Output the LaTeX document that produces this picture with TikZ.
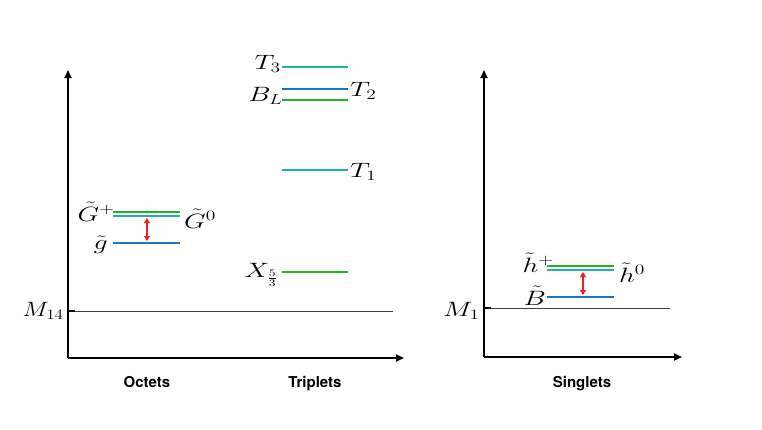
\documentclass[tikz,border=0pt]{standalone}
\usepackage{fontspec}
\newfontfamily\labfont{TeX Gyre Heros}
\usetikzlibrary{arrows.meta}
\definecolor{lvgreen}{RGB}{34,180,34}
\definecolor{lvteal}{RGB}{32,178,170}
\definecolor{lvblue}{RGB}{26,117,188}
\definecolor{lvred}{RGB}{240,32,32}
\newcommand{\wml}[1]{\scalebox{1.35}[1]{#1}}
\begin{document}
\begin{tikzpicture}[x=1pt,y=-1pt,
  axis/.style={line width=1.8pt,-{Triangle[length=8pt,width=7pt]}},
  mline/.style={line width=0.6pt,black!75},
  tick/.style={line width=1.8pt},
  lev/.style={line width=2.4pt},
  gap/.style={line width=1.6pt,lvred,{Triangle[length=5pt,width=6pt]}-{Triangle[length=5pt,width=6pt]}},
  ml/.style={inner sep=0pt,font=\fontsize{19.5}{21}\selectfont},
  cat/.style={inner sep=0pt,anchor=base,font=\labfont\bfseries\fontsize{15}{17}\selectfont}]
\useasboundingbox (0,0) rectangle (762,429);
% left axes
\coordinate (o1) at (68,358);
\coordinate (y1) at (68,70);
\coordinate (x1) at (404,358);
\draw[axis] (o1) -- (y1);
\draw[axis] (o1) -- (x1);
\coordinate (m14a) at (68,311);
\coordinate (m14b) at (393,311);
\coordinate (m14t) at (75,311);
\draw[mline] (m14a) -- (m14b);
\draw[tick] (m14a) -- (m14t);
\node[ml,anchor=base east] (m14) at (64,316) {\scalebox{1.2}[1]{$M_{14}$}};
% octets
\coordinate (gpa) at (113,212); \coordinate (gpb) at (180,212);
\coordinate (g0a) at (113,216); \coordinate (g0b) at (180,216);
\coordinate (gla) at (113,243); \coordinate (glb) at (180,243);
\draw[lev,lvgreen] (gpa) -- (gpb);
\draw[lev,lvteal] (g0a) -- (g0b);
\draw[lev,lvblue] (gla) -- (glb);
\coordinate (ga1) at (147,218); \coordinate (ga2) at (147,241);
\draw[gap] (ga1) -- (ga2);
\node[ml,anchor=base east] (Gp) at (115,221) {\wml{$\tilde G^{+}$}};
\node[ml,anchor=base west] (G0) at (184,228) {\wml{$\tilde G^{0}$}};
\node[ml,anchor=base east] (gl) at (108,249) {\wml{$\tilde g$}};
% triplets
\coordinate (t3a) at (282,67); \coordinate (t3b) at (348,67);
\coordinate (t2a) at (282,89); \coordinate (t2b) at (348,89);
\coordinate (bla) at (282,100); \coordinate (blb) at (348,100);
\coordinate (t1a) at (282,170); \coordinate (t1b) at (348,170);
\coordinate (x5a) at (282,272); \coordinate (x5b) at (348,272);
\draw[lev,lvteal] (t3a) -- (t3b);
\draw[lev,lvblue] (t2a) -- (t2b);
\draw[lev,lvgreen] (bla) -- (blb);
\draw[lev,lvteal] (t1a) -- (t1b);
\draw[lev,lvgreen] (x5a) -- (x5b);
\node[ml,anchor=base east] (T3) at (281,69) {\wml{$T_3$}};
\node[ml,anchor=base west] (T2) at (350,96) {\wml{$T_2$}};
\node[ml,anchor=base east] (BL) at (283,101) {\wml{$B_L$}};
\node[ml,anchor=base west] (T1) at (350,177) {\wml{$T_1$}};
\node[ml,anchor=base east] (X53) at (278,277) {\wml{$X_{\frac{5}{3}}$}};
% right axes
\coordinate (o2) at (484,357);
\coordinate (y2) at (484,70);
\coordinate (x2) at (682,357);
\draw[axis] (o2) -- (y2);
\draw[axis] (o2) -- (x2);
\coordinate (m1a) at (484,308);
\coordinate (m1b) at (670,308);
\coordinate (m1t) at (491,308);
\draw[mline] (m1a) -- (m1b);
\draw[tick] (m1a) -- (m1t);
\node[ml,anchor=base east] (M1) at (480,316) {\wml{$M_{1}$}};
% singlets
\coordinate (hpa) at (547,266); \coordinate (hpb) at (614,266);
\coordinate (h0a) at (547,270); \coordinate (h0b) at (614,270);
\coordinate (bba) at (547,297); \coordinate (bbb) at (614,297);
\draw[lev,lvgreen] (hpa) -- (hpb);
\draw[lev,lvteal] (h0a) -- (h0b);
\draw[lev,lvblue] (bba) -- (bbb);
\coordinate (ha1) at (583,272); \coordinate (ha2) at (583,295);
\draw[gap] (ha1) -- (ha2);
\node[ml,anchor=base east] (hp) at (554,272) {\wml{$\tilde h^{+}$}};
\node[ml,anchor=base west] (h0) at (619,282) {\wml{$\tilde h^{0}$}};
\node[ml,anchor=base east] (Bt) at (546,305) {\wml{$\tilde B$}};
% categories
\node[cat] (oct) at (147,387) {Octets};
\node[cat] (tri) at (315,387) {Triplets};
\node[cat] (sin) at (582,387) {Singlets};
\end{tikzpicture}
\end{document}
